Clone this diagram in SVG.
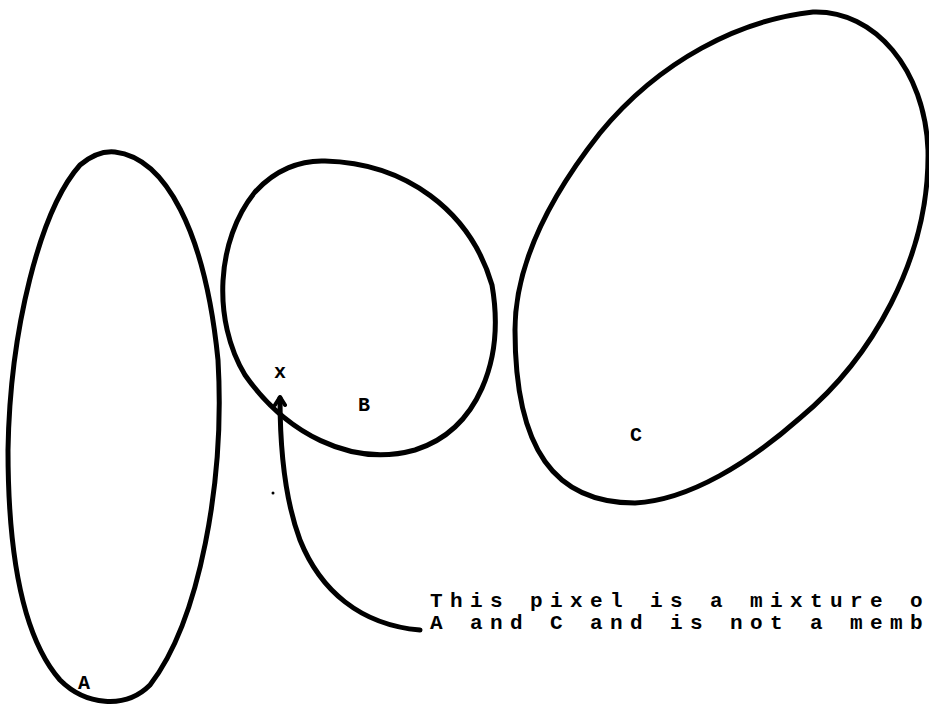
<svg xmlns="http://www.w3.org/2000/svg" width="929" height="707" viewBox="0 0 929 707">
<style>
.set{fill:none;stroke:#000;stroke-width:5;stroke-linecap:round;stroke-linejoin:round}
.lbl{font-family:"Liberation Mono","Courier New",monospace;font-weight:bold;font-size:20px;fill:#000}
.note{font-family:"Liberation Mono","Courier New",monospace;font-weight:bold;font-size:21px;letter-spacing:7.4px;fill:#000}
</style>
<defs>
<marker id="ah" markerWidth="14" markerHeight="14" refX="10" refY="7" orient="auto" markerUnits="userSpaceOnUse" viewBox="0 0 14 14">
<path d="M3,2 L11,7 L3,12" fill="none" stroke="#000" stroke-width="4" stroke-linejoin="round" stroke-linecap="round"/>
</marker>
</defs>
<rect width="929" height="707" fill="#fff"/>
<g id="A">
<path class="set" d="M115,152 C165,158 205,230 218,360 C225,480 200,620 150,685 C125,710 85,705 60,680 C25,640 8,560 8,450 C10,330 40,210 80,165 C92,155 105,151 115,152 Z"/>
<text class="lbl" x="78" y="689">A</text>
</g>
<g id="B">
<path class="set" d="M325,161 C405,163 470,210 492,285 C505,360 478,430 415,450 C350,468 285,432 245,375 C212,320 216,240 255,192 C275,170 300,160 325,161 Z"/>
<text class="lbl" x="358" y="411">B</text>
<text class="lbl" x="274" y="378">x</text>
</g>
<g id="C">
<path class="set" d="M813,12 C875,10 925,70 928,150 C930,260 870,360 800,418 C750,462 690,500 635,503 C555,503 515,450 515,330 C515,260 555,190 600,133 C660,60 740,20 813,12 Z"/>
<text class="lbl" x="630" y="441">C</text>
</g>
<g id="connectors">
<path class="set" d="M420,630 C360,625 320,590 300,540 C285,500 280,450 280,398" marker-end="url(#ah)"/>
<circle cx="273" cy="493" r="1.5" fill="#000"/>
</g>
<g id="note">
<text class="note" x="430" y="607">This pixel is a mixture o</text>
<text class="note" x="430" y="629">A and C and is not a memb</text>
</g>
</svg>
